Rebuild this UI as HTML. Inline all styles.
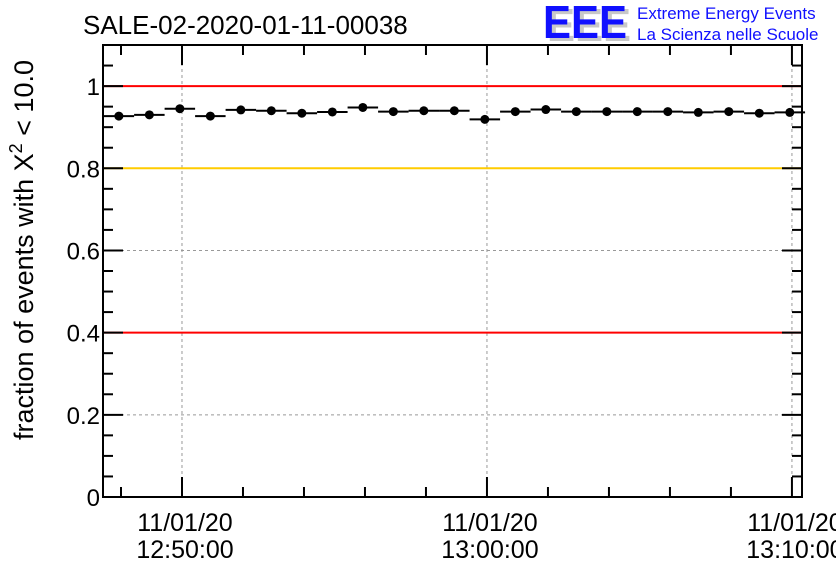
<!DOCTYPE html>
<html><head><meta charset="utf-8"><style>
html,body{margin:0;padding:0;background:#fff;}
svg{display:block;font-family:"Liberation Sans",sans-serif;}
</style></head><body>
<svg id="c" width="836" height="572" xmlns="http://www.w3.org/2000/svg">
<text x="83" y="34" font-size="26">SALE-02-2020-01-11-00038</text>
<g>
<text x="547" y="41" font-size="46" font-weight="bold" fill="#c8c8c8" textLength="84" lengthAdjust="spacingAndGlyphs">EEE</text>
<text x="543" y="38" font-size="46" font-weight="bold" fill="#1010ff" textLength="84" lengthAdjust="spacingAndGlyphs">EEE</text>
<text x="637" y="19" font-size="17" fill="#1010ff">Extreme Energy Events</text>
<text x="637" y="40" font-size="17" fill="#1010ff">La Scienza nelle Scuole</text>
</g>
<text transform="translate(33,250) rotate(-90)" text-anchor="middle" font-size="27">fraction of events with X<tspan dy="-11" font-size="18">2</tspan><tspan dy="11"> &lt; 10.0</tspan></text>
<g id="plot"></g>
</svg>
<script>
const yTickValues=[0,0.2,0.4,0.6,0.8,1];
const yTickLabels=["0","0.2","0.4","0.6","0.8","1"];
const xTickMinutes=[0,10,20];
const xTickLabels1=["11/01/20","11/01/20","11/01/20"];
const xTickLabels2=["12:50:00","13:00:00","13:10:00"];
const refLines=[1.0,0.8,0.4];
const refColors=["#ff0000","#ffcc00","#ff0000"];
// bin centers in minutes relative to 12:50:00
const binMinutes=[-2.07,-1.07,-0.07,0.93,1.93,2.93,3.93,4.93,5.93,6.93,7.93,8.93,9.93,10.93,11.93,12.93,13.93,14.93,15.93,16.93,17.93,18.93,19.93];
const fractions=[0.927,0.930,0.945,0.927,0.942,0.940,0.934,0.937,0.948,0.938,0.940,0.940,0.919,0.938,0.943,0.938,0.938,0.938,0.938,0.936,0.938,0.934,0.936];
const errors=[0.005,0.005,0.005,0.005,0.005,0.005,0.005,0.005,0.005,0.005,0.005,0.005,0.005,0.005,0.005,0.005,0.005,0.005,0.005,0.005,0.005,0.005,0.005];

const L=103,R=802,T=45,B=497;
const xMin=-2.59,xMax=20.33,yMin=0,yMax=1.1;
const X=m=>L+(m-xMin)/(xMax-xMin)*(R-L);
const Y=v=>B-(v-yMin)/(yMax-yMin)*(B-T);
const NS="http://www.w3.org/2000/svg";
const g=document.getElementById('plot');
function mk(t,a){const e=document.createElementNS(NS,t);for(const k in a)e.setAttribute(k,a[k]);g.appendChild(e);return e;}

yTickValues.forEach(v=>{if(v>0){const e=mk('line',{x1:L,x2:R,y1:Y(v),y2:Y(v),stroke:'#999','stroke-dasharray':'3,3','stroke-width':1});

}});
xTickMinutes.forEach(m=>{const e=mk('line',{x1:X(m),x2:X(m),y1:T,y2:B,stroke:'#999','stroke-dasharray':'3,3','stroke-width':1});

});
refLines.forEach((v,i)=>{const e=mk('line',{x1:L,x2:R,y1:Y(v),y2:Y(v),stroke:refColors[i],'stroke-width':2});

});
for(let k=0;k<=22;k++){const v=k*0.05;const maj=k%4===0;const len=maj?20:10;
 mk('line',{x1:L,x2:L+len,y1:Y(v),y2:Y(v),stroke:'#000','stroke-width':2});
 mk('line',{x1:R,x2:R-len,y1:Y(v),y2:Y(v),stroke:'#000','stroke-width':2});}
yTickValues.forEach((v,i)=>{const e=mk('text',{x:L-3,y:Y(v)+9,'text-anchor':'end','font-size':24});e.textContent=yTickLabels[i];

});
for(let m=-2;m<=20;m+=2){const maj=m%10===0;const len=maj?20:10;
 mk('line',{x1:X(m),x2:X(m),y1:B,y2:B-len,stroke:'#000','stroke-width':2});
 mk('line',{x1:X(m),x2:X(m),y1:T,y2:T+len,stroke:'#000','stroke-width':2});}
xTickMinutes.forEach((m,i)=>{
 const a=mk('text',{x:X(m)+3,y:531,'text-anchor':'middle','font-size':25});a.textContent=xTickLabels1[i];
 
 
 const b=mk('text',{x:X(m)+3,y:558,'text-anchor':'middle','font-size':25});b.textContent=xTickLabels2[i];
 
 });
binMinutes.forEach((m,i)=>{
 const h=mk('line',{x1:X(m-0.5),x2:X(m+0.5),y1:Y(fractions[i]),y2:Y(fractions[i]),stroke:'#000','stroke-width':2});
 
 
 const v=mk('line',{x1:X(m),x2:X(m),y1:Y(fractions[i]-errors[i]),y2:Y(fractions[i]+errors[i]),stroke:'#000','stroke-width':2});
 
 
 const c=mk('circle',{cx:X(m),cy:Y(fractions[i]),r:4.5,fill:'#000'});
 
 });
const f=mk('rect',{x:L,y:T,width:R-L,height:B-T,fill:'none',stroke:'#000','stroke-width':2});


</script>
</body></html>
